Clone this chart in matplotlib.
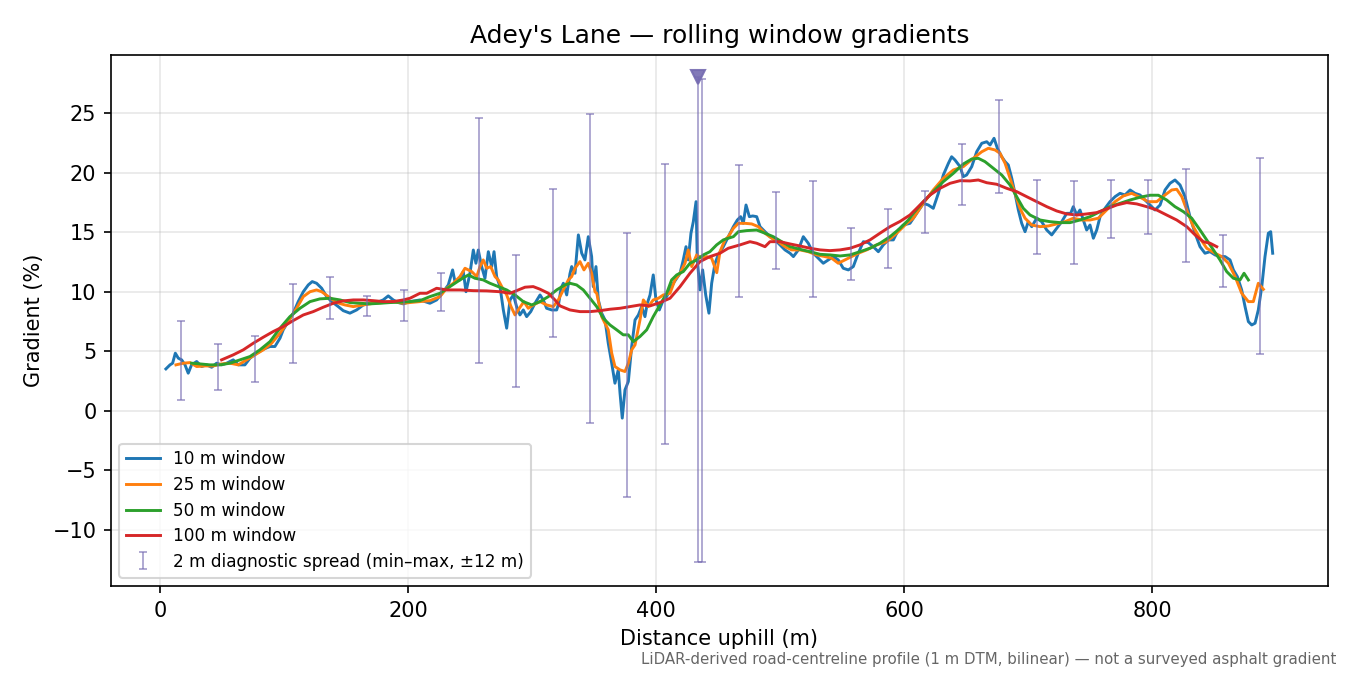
import numpy as np
import matplotlib.pyplot as plt

# 10 m window (noisy)
dist_10 = [4.8, 8.1, 10.2, 12.4, 14.8, 17.5, 20.2, 22.8, 25.5, 29.6, 33.6, 37.6, 41.7, 45.7, 49.7, 53.8,
           59.1, 63.2, 68.5, 72.6, 78.0, 83.3, 88.7, 92.7, 96.8, 99.4, 103.5, 107.5, 111.5, 115.6, 119.6,
           122.8, 126.3, 130.4, 134.4, 138.5, 143.8, 147.8, 153.2, 158.6, 164.0, 169.4, 174.8, 180.0, 184.1,
           188.1, 192.2, 196.2, 201.6, 209.7, 217.7, 223.1, 228.5, 232.5, 236.0, 237.9, 241.9, 244.6, 246.8,
           250.0, 252.7, 254.8, 256.7, 259.4, 262.1, 264.8, 267.5, 269.4, 271.5, 274.2, 276.9, 279.6, 282.3,
           285.0, 287.6, 290.3, 293.0, 295.7, 299.0, 302.4, 306.5, 309.1, 311.8, 315.9, 319.9, 321.5, 323.5,
           325.3, 328.0, 330.6, 332.0, 334.7, 337.4, 340.1, 342.7, 345.4, 348.1, 349.4, 351.6, 353.5, 356.2,
           358.9, 361.5, 364.3, 366.9, 369.6, 371.0, 372.8, 375.0, 377.7, 380.4, 383.1, 385.8, 388.4, 391.1,
           393.0, 395.2, 397.8, 400.0, 402.7, 405.9, 408.6, 411.3, 414.0, 416.7, 419.4, 422.0, 424.2, 426.0,
           428.2, 430.1, 432.3, 433.3, 435.5, 437.6, 440.1, 442.7, 444.9, 447.6, 450.2, 454.3, 458.3, 462.4,
           465.6, 468.3, 470.4, 472.6, 475.3, 478.0, 481.2, 483.9, 487.9, 491.9, 496.0, 500.0, 504.0, 508.1,
           510.8, 514.8, 518.8, 522.8, 526.9, 530.9, 534.9, 539.0, 543.0, 547.0, 551.0, 555.1, 559.1, 563.1,
           567.2, 571.2, 575.2, 579.3, 583.3, 587.3, 591.4, 595.4, 599.4, 604.8, 610.2, 615.6, 619.6, 623.6,
           627.7, 631.7, 635.8, 638.4, 641.1, 645.2, 647.8, 650.5, 654.6, 658.6, 662.7, 666.7, 669.4, 672.6,
           675.3, 678.8, 681.5, 684.1, 686.9, 689.5, 692.2, 694.9, 697.6, 700.2, 703.0, 707.0, 711.0, 715.1,
           719.1, 723.1, 727.2, 731.2, 734.4, 736.5, 739.3, 741.9, 744.6, 747.3, 750.0, 752.7, 755.4, 758.1,
           762.1, 766.1, 770.2, 774.2, 778.2, 782.3, 786.3, 790.3, 794.4, 798.4, 802.4, 806.5, 810.5, 814.5,
           818.5, 822.6, 826.6, 830.6, 834.7, 838.7, 842.7, 846.8, 850.8, 854.8, 858.9, 862.9, 865.6, 868.8,
           872.3, 875.0, 877.7, 880.4, 883.1, 885.7, 888.5, 891.1, 893.8, 895.7, 897.3]
grad_10 = [3.52, 3.86, 4.0, 4.84, 4.42, 4.28, 3.86, 3.16, 3.86, 4.14, 3.72, 3.86, 3.66, 4.0, 3.86, 4.0,
           4.28, 3.86, 3.86, 4.42, 4.84, 5.17, 5.4, 5.4, 6.1, 6.8, 7.5, 8.2, 9.17, 10.0, 10.57,
           10.85, 10.71, 10.29, 9.59, 9.17, 8.75, 8.41, 8.2, 8.47, 8.89, 9.03, 9.09, 9.31, 9.65,
           9.31, 9.09, 8.98, 9.17, 9.31, 9.03, 9.31, 10.0, 10.57, 11.83, 10.85, 10.99, 11.69, 10.0,
           11.55, 13.5, 12.39, 13.5, 12.11, 11.13, 13.36, 12.11, 13.36, 11.27, 10.43, 8.47, 6.94, 9.31,
           9.73, 8.75, 8.05, 8.47, 7.91, 8.33, 9.03, 9.73, 9.31, 8.61, 8.47, 8.47, 9.0, 10.3,
           10.71, 9.73, 11.5, 12.11, 11.55, 14.77, 13.23, 12.67, 14.62, 12.95, 10.43, 12.11, 9.31, 8.2,
           7.63, 5.68, 4.0, 2.32, 3.44, 1.48, -0.61, 1.76, 2.46, 5.4, 7.63, 8.05, 8.75, 7.91,
           9.03, 9.73, 11.41, 9.31, 8.47, 9.31, 9.59, 10.15, 10.71, 11.13, 11.55, 12.67, 13.78, 12.67,
           14.91, 15.88, 17.56, 12.67, 10.15, 11.83, 9.73, 8.2, 10.71, 12.39, 13.09, 13.78, 14.62, 15.46,
           16.02, 16.3, 15.74, 17.28, 16.3, 16.36, 16.3, 15.46, 15.04, 14.62, 14.35, 13.93, 13.51, 13.23,
           12.95, 13.51, 14.62, 14.07, 13.23, 12.81, 12.39, 12.67, 12.95, 12.67, 11.97, 11.83, 12.11, 13.23,
           14.2, 14.12, 13.78, 13.36, 13.93, 14.35, 14.35, 15.18, 15.6, 15.74, 16.58, 17.42, 17.28, 17.0,
           18.26, 19.8, 20.78, 21.33, 21.06, 20.5, 19.66, 19.8, 20.5, 21.75, 22.46, 22.59, 22.32, 22.88,
           22.04, 21.33, 20.92, 20.64, 19.52, 18.26, 16.86, 15.74, 15.04, 15.88, 15.46, 16.17, 15.88, 15.18,
           14.77, 15.32, 15.88, 16.58, 16.58, 17.14, 16.44, 16.86, 16.02, 15.18, 15.6, 14.49, 15.18, 16.3,
           17.0, 17.56, 17.98, 18.26, 18.12, 18.54, 18.26, 18.12, 17.7, 17.28, 16.86, 17.28, 18.54, 19.1,
           19.38, 18.96, 17.98, 16.3, 14.91, 13.78, 13.23, 13.36, 13.09, 12.95, 12.95, 12.67, 11.83, 11.27,
           10.15, 8.75, 7.49, 7.21, 7.36, 8.47, 10.43, 12.95, 14.91, 15.04, 13.23]

# 25 m window
dist_25 = [12.9, 18.8, 24.2, 29.6, 36.3, 43.0, 49.7, 56.5, 63.2, 69.9, 76.6, 83.3, 90.1, 96.8, 103.5,
           110.2, 115.6, 121.0, 126.3, 130.4, 135.8, 142.5, 149.2, 155.9, 164.0, 172.0, 180.1, 188.1, 196.2,
           201.6, 209.7, 217.7, 225.8, 231.2, 236.6, 241.9, 246.0, 248.7, 251.4, 255.4, 258.1, 260.7, 263.5,
           266.7, 270.2, 272.8, 275.6, 279.6, 283.1, 286.3, 289.8, 293.5, 297.0, 301.0, 306.5, 311.8, 317.2,
           321.2, 325.3, 329.3, 332.0, 334.7, 338.7, 341.9, 345.4, 348.1, 350.8, 352.2, 356.2, 361.5, 364.3,
           366.9, 371.0, 375.0, 377.7, 380.4, 383.1, 387.1, 389.8, 393.8, 397.8, 401.9, 405.9, 411.3, 415.3,
           419.4, 423.4, 426.0, 428.8, 432.8, 436.9, 440.9, 444.9, 449.0, 451.6, 455.6, 458.3, 462.4, 466.4,
           471.8, 477.2, 482.5, 487.9, 493.3, 498.6, 504.0, 509.4, 516.1, 522.8, 529.6, 536.3, 541.7, 547.0,
           552.4, 557.8, 563.1, 569.9, 577.9, 586.0, 594.1, 602.2, 607.5, 615.6, 623.6, 631.7, 639.8, 647.8,
           655.9, 662.7, 668.0, 673.4, 677.4, 681.5, 685.5, 689.5, 693.5, 697.6, 703.0, 709.7, 716.4, 723.1,
           729.8, 736.5, 743.3, 750.0, 756.7, 763.4, 770.2, 776.9, 783.6, 790.3, 797.0, 803.8, 810.5, 815.9,
           819.9, 824.0, 828.0, 833.3, 838.7, 844.1, 850.8, 856.2, 861.6, 867.0, 872.3, 877.7, 881.7, 885.7,
           889.8]
grad_25 = [3.86, 4.0, 4.05, 3.72, 3.77, 3.77, 3.94, 4.0, 3.86, 4.28, 4.7, 5.12, 5.68, 6.52, 7.5,
           8.61, 9.59, 10.0, 10.15, 10.0, 9.59, 9.09, 8.89, 8.75, 8.89, 9.03, 9.09, 9.17, 9.03,
           9.09, 9.17, 9.25, 9.59, 10.29, 10.71, 11.27, 11.97, 11.83, 11.69, 11.27, 12.11, 12.67, 11.97,
           12.11, 11.27, 10.99, 10.43, 9.73, 8.75, 8.05, 8.61, 9.17, 8.61, 8.89, 9.17, 8.89, 8.75,
           9.31, 10.15, 10.99, 11.27, 11.97, 12.53, 11.83, 12.39, 11.55, 10.0, 9.87, 7.91, 6.8, 4.84,
           3.72, 3.44, 3.3, 4.0, 5.12, 5.54, 7.63, 9.31, 8.75, 9.31, 9.45, 9.73, 9.87, 10.99,
           11.55, 12.39, 13.51, 12.11, 13.09, 12.81, 12.95, 12.81, 11.6, 13.36, 14.35, 14.62, 15.32, 15.74,
           15.74, 15.69, 15.46, 14.91, 14.49, 14.2, 13.78, 13.51, 13.51, 13.36, 13.09, 12.95, 12.81, 12.39,
           12.67, 12.95, 13.23, 13.51, 13.93, 14.2, 14.91, 15.74, 16.17, 17.42, 18.54, 19.52, 20.22, 20.5,
           21.2, 21.75, 22.04, 21.9, 21.62, 20.78, 19.52, 18.26, 17.0, 16.17, 15.6, 15.46, 15.52, 15.69,
           15.88, 16.17, 16.02, 16.02, 16.17, 16.86, 17.56, 18.04, 18.26, 17.93, 17.56, 17.56, 18.12, 18.54,
           18.6, 17.98, 16.86, 15.46, 14.49, 13.65, 13.23, 12.95, 12.39, 11.27, 9.87, 9.17, 9.17, 10.71,
           10.2]

# 50 m window
dist_50 = [25.5, 32.3, 40.3, 48.4, 56.5, 64.5, 72.6, 80.6, 88.7, 96.8, 104.8, 112.9, 121.0, 129.0, 137.1,
           145.2, 153.2, 161.3, 169.4, 177.4, 185.5, 193.5, 201.6, 209.7, 217.7, 225.8, 233.9, 241.9, 248.7,
           254.0, 260.7, 266.1, 272.8, 279.6, 286.3, 293.0, 299.8, 306.5, 313.2, 319.9, 326.6, 330.6, 336.0,
           341.4, 346.8, 352.2, 357.5, 362.9, 368.3, 373.6, 377.7, 381.7, 387.1, 392.5, 397.8, 403.2, 408.6,
           412.6, 416.7, 422.0, 427.4, 432.8, 438.2, 443.5, 448.9, 454.3, 458.3, 462.4, 466.4, 473.1, 481.2,
           487.9, 494.6, 501.3, 508.1, 516.1, 524.2, 532.3, 540.3, 548.4, 556.5, 564.5, 572.6, 580.6, 588.7,
           596.8, 603.5, 607.5, 615.6, 623.6, 631.7, 639.8, 647.8, 654.6, 659.9, 665.3, 672.0, 678.8, 685.5,
           690.9, 696.2, 701.6, 709.7, 717.7, 725.8, 733.9, 741.9, 750.0, 758.1, 766.1, 774.2, 782.3, 790.3,
           798.4, 805.1, 811.8, 818.5, 825.3, 832.0, 838.7, 844.1, 849.5, 854.8, 860.2, 865.6, 871.0, 874.2,
           877.7]
grad_50 = [4.0, 3.94, 3.86, 3.86, 4.0, 4.28, 4.56, 5.12, 5.81, 6.94, 7.91, 8.61, 9.17, 9.4, 9.45,
           9.31, 9.09, 9.03, 8.98, 9.03, 9.09, 9.12, 9.17, 9.25, 9.59, 9.87, 10.43, 10.99, 11.41,
           11.13, 10.99, 10.71, 10.43, 10.15, 9.73, 9.17, 8.89, 9.17, 9.59, 10.15, 10.57, 10.71, 10.57,
           10.15, 9.45, 8.75, 7.77, 7.21, 6.8, 6.38, 6.38, 5.81, 6.24, 6.8, 7.91, 8.89, 9.87,
           10.99, 11.41, 11.69, 12.39, 12.67, 13.09, 13.36, 13.93, 14.35, 14.49, 14.62, 15.04, 15.13, 15.18,
           14.91, 14.62, 14.2, 13.78, 13.56, 13.36, 13.14, 13.09, 13.0, 13.09, 13.36, 13.65, 14.07, 14.62,
           15.32, 16.02, 16.58, 17.56, 18.4, 19.24, 19.94, 20.72, 21.14, 21.2, 20.92, 20.36, 19.8, 18.96,
           17.98, 17.0, 16.44, 16.02, 15.88, 15.8, 15.8, 16.02, 16.3, 16.72, 17.14, 17.42, 17.7, 17.93,
           18.1, 18.1, 17.7, 17.14, 16.72, 16.17, 15.18, 14.35, 13.51, 12.67, 11.69, 11.13, 10.99, 11.55,
           10.99]

# 100 m window
dist_100 = [49.7, 59.1, 67.2, 75.3, 83.3, 91.4, 99.4, 107.5, 115.6, 123.6, 131.7, 139.8, 147.8, 155.9,
            164.0, 172.0, 180.1, 188.1, 196.2, 201.6, 209.7, 215.1, 223.1, 231.2, 241.9, 252.7, 263.5,
            274.2, 282.3, 289.0, 294.4, 301.0, 306.5, 313.2, 318.5, 322.6, 330.6, 338.7, 346.8, 354.8,
            362.9, 371.0, 379.0, 387.1, 395.2, 403.2, 411.3, 419.4, 427.4, 435.5, 443.5, 451.6, 458.3,
            467.7, 475.8, 481.2, 487.9, 491.9, 500.0, 508.1, 516.1, 524.2, 532.3, 540.3, 548.4, 556.5,
            564.5, 572.6, 580.6, 588.7, 596.8, 604.8, 612.9, 621.0, 629.0, 637.1, 645.2, 653.2, 659.9,
            666.7, 674.8, 682.8, 690.9, 698.9, 707.0, 715.1, 723.1, 731.2, 739.3, 747.3, 755.4, 763.4,
            771.5, 779.6, 787.7, 795.7, 803.8, 811.8, 819.9, 828.0, 834.7, 841.4, 846.8, 852.2]
grad_100 = [4.28, 4.7, 5.12, 5.68, 6.18, 6.66, 7.07, 7.58, 8.05, 8.33, 8.7, 9.03, 9.23, 9.31,
            9.31, 9.25, 9.17, 9.17, 9.31, 9.45, 9.87, 9.87, 10.29, 10.15, 10.15, 10.09, 10.07,
            10.0, 9.87, 10.15, 10.38, 10.43, 10.21, 9.87, 9.31, 8.81, 8.47, 8.33, 8.33, 8.41,
            8.53, 8.61, 8.75, 8.89, 8.81, 9.09, 9.45, 10.43, 11.55, 12.53, 12.95, 13.23, 13.65,
            13.93, 14.2, 14.07, 13.78, 14.2, 14.2, 14.01, 13.84, 13.65, 13.51, 13.45, 13.51, 13.65,
            13.93, 14.35, 14.91, 15.46, 15.9, 16.44, 17.28, 18.12, 18.68, 19.1, 19.32, 19.3, 19.38,
            19.15, 19.02, 18.68, 18.4, 17.98, 17.56, 17.14, 16.78, 16.53, 16.44, 16.53, 16.64, 16.95,
            17.28, 17.48, 17.37, 17.14, 16.86, 16.44, 16.02, 15.46, 14.77, 14.2, 14.07, 13.78]

# 2 m diagnostic spread (min / max within +-12 m)
spread_x = [17, 47, 77, 107, 137, 167, 197, 227, 257, 287, 317, 347, 377, 407, 434, 437,
            467, 497, 527, 557, 587, 617, 647, 677, 707, 737, 767, 797, 827, 857, 887]
spread_lo = [0.87, 1.79, 2.38, 4.05, 7.75, 8.0, 7.58, 8.41, 4.05, 2.04, 6.24, -1.03, -7.27, -2.82, -12.7, -12.7,
             9.59, 11.91, 9.59, 11.02, 12.02, 14.96, 17.31, 18.32, 13.2, 12.36, 14.54, 14.85, 12.5, 10.43, 4.78]
spread_hi = [7.58, 5.62, 6.29, 10.68, 11.27, 9.65, 10.15, 11.6, 24.58, 13.09, 18.62, 24.9, 14.9, 20.72, 28.0, 27.85,
             20.64, 18.37, 19.32, 15.38, 16.97, 18.48, 22.43, 26.09, 19.38, 19.3, 19.38, 19.38, 20.3, 14.77, 21.25]

spike_x = 434
spike_y = 28.0

fig = plt.figure(figsize=(9, 4.5), dpi=150)
ax = fig.add_axes([0.0822, 0.1319, 0.9015, 0.7866])

ax.plot(dist_10, grad_10, color='C0', lw=1.4, label='10 m window')
ax.plot(dist_25, grad_25, color='C1', lw=1.4, label='25 m window')
ax.plot(dist_50, grad_50, color='C2', lw=1.4, label='50 m window')
ax.plot(dist_100, grad_100, color='C3', lw=1.4, label='100 m window')

lo = np.array(spread_lo)
hi = np.array(spread_hi)
mid = (lo + hi) / 2
ax.errorbar(spread_x, mid, yerr=[mid - lo, hi - mid], fmt='none', ecolor='#756bb1', alpha=0.6,
            elinewidth=0.9, capsize=2, capthick=0.9, label='2 m diagnostic spread (min\u2013max, \u00b112 m)')
ax.plot([spike_x], [spike_y], marker='v', ms=6.5, color='#756bb1', alpha=0.9, ls='none')

ax.set_xlim(-39.5, 941.9)
ax.set_ylim(-14.7, 29.87)
ax.set_xticks([0, 200, 400, 600, 800])
ax.set_yticks([-10, -5, 0, 5, 10, 15, 20, 25])
ax.tick_params(labelsize=10)
ax.grid(True, alpha=0.3)

ax.set_xlabel('Distance uphill (m)', fontsize=10)
ax.set_ylabel('Gradient (%)', fontsize=10)
ax.set_title("Adey's Lane \u2014 rolling window gradients", fontsize=12)
ax.legend(loc='lower left', fontsize=8.1, labelspacing=0.45)

fig.text(0.99, 0.012, 'LiDAR-derived road-centreline profile (1 m DTM, bilinear) \u2014 not a surveyed asphalt gradient',
         ha='right', va='bottom', fontsize=7.2, color='#666666')

fig.savefig('out.png', dpi=150)
